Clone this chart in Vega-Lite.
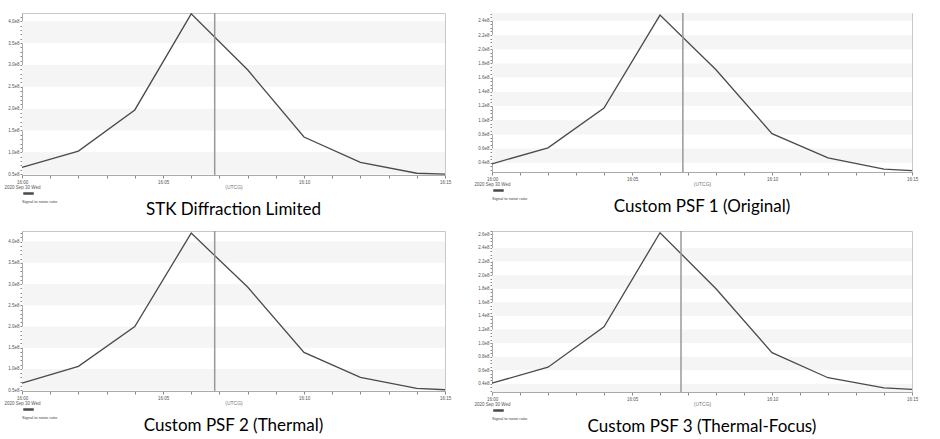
{
  "$schema": "https://vega.github.io/schema/vega-lite/v6.json",
  "padding": {"left": 3, "top": 10, "right": 2, "bottom": 0},
  "background": "white",
  "config": {
    "view": {"stroke": "#c8c8c8", "strokeWidth": 1},
    "axis": {"domainColor": "#aaa", "tickColor": "#888", "labelColor": "#555", "labelFont": "Liberation Sans", "labelFontSize": 4.5, "grid": false, "titleFont": "Liberation Sans"},
    "title": {"font": "Lato", "fontSize": 17, "fontWeight": "normal", "color": "#000", "orient": "bottom", "offset": -2}
  },
  "datasets": {
    "snr": [
      {"panel": 1, "time": "2020-09-30T16:00:00", "snr": 65500000},
      {"panel": 1, "time": "2020-09-30T16:02:00", "snr": 102700000},
      {"panel": 1, "time": "2020-09-30T16:04:00", "snr": 197000000},
      {"panel": 1, "time": "2020-09-30T16:06:00", "snr": 417000000},
      {"panel": 1, "time": "2020-09-30T16:08:00", "snr": 289000000},
      {"panel": 1, "time": "2020-09-30T16:10:00", "snr": 135000000},
      {"panel": 1, "time": "2020-09-30T16:12:00", "snr": 77000000},
      {"panel": 1, "time": "2020-09-30T16:14:00", "snr": 52000000},
      {"panel": 1, "time": "2020-09-30T16:15:00", "snr": 50000000},
      {"panel": 2, "time": "2020-09-30T16:00:00", "snr": 38600000},
      {"panel": 2, "time": "2020-09-30T16:02:00", "snr": 61000000},
      {"panel": 2, "time": "2020-09-30T16:04:00", "snr": 117000000},
      {"panel": 2, "time": "2020-09-30T16:06:00", "snr": 248000000},
      {"panel": 2, "time": "2020-09-30T16:08:00", "snr": 171000000},
      {"panel": 2, "time": "2020-09-30T16:10:00", "snr": 81000000},
      {"panel": 2, "time": "2020-09-30T16:12:00", "snr": 47000000},
      {"panel": 2, "time": "2020-09-30T16:14:00", "snr": 31000000},
      {"panel": 2, "time": "2020-09-30T16:15:00", "snr": 29000000},
      {"panel": 3, "time": "2020-09-30T16:00:00", "snr": 66500000},
      {"panel": 3, "time": "2020-09-30T16:02:00", "snr": 106000000},
      {"panel": 3, "time": "2020-09-30T16:04:00", "snr": 200000000},
      {"panel": 3, "time": "2020-09-30T16:06:00", "snr": 420000000},
      {"panel": 3, "time": "2020-09-30T16:08:00", "snr": 293000000},
      {"panel": 3, "time": "2020-09-30T16:10:00", "snr": 139000000},
      {"panel": 3, "time": "2020-09-30T16:12:00", "snr": 80000000},
      {"panel": 3, "time": "2020-09-30T16:14:00", "snr": 54000000},
      {"panel": 3, "time": "2020-09-30T16:15:00", "snr": 51000000},
      {"panel": 4, "time": "2020-09-30T16:00:00", "snr": 41000000},
      {"panel": 4, "time": "2020-09-30T16:02:00", "snr": 64500000},
      {"panel": 4, "time": "2020-09-30T16:04:00", "snr": 124000000},
      {"panel": 4, "time": "2020-09-30T16:06:00", "snr": 262500000},
      {"panel": 4, "time": "2020-09-30T16:08:00", "snr": 180000000},
      {"panel": 4, "time": "2020-09-30T16:10:00", "snr": 86000000},
      {"panel": 4, "time": "2020-09-30T16:12:00", "snr": 49000000},
      {"panel": 4, "time": "2020-09-30T16:14:00", "snr": 34000000},
      {"panel": 4, "time": "2020-09-30T16:15:00", "snr": 32000000}
    ],
    "bands": [
      {"panel": 1, "lo": 50000000, "hi": 100000000},
      {"panel": 1, "lo": 150000000, "hi": 200000000},
      {"panel": 1, "lo": 250000000, "hi": 300000000},
      {"panel": 1, "lo": 350000000, "hi": 400000000},
      {"panel": 3, "lo": 50000000, "hi": 100000000},
      {"panel": 3, "lo": 150000000, "hi": 200000000},
      {"panel": 3, "lo": 250000000, "hi": 300000000},
      {"panel": 3, "lo": 350000000, "hi": 400000000},
      {"panel": 2, "lo": 40000000, "hi": 60000000},
      {"panel": 2, "lo": 80000000, "hi": 100000000},
      {"panel": 2, "lo": 120000000, "hi": 140000000},
      {"panel": 2, "lo": 160000000, "hi": 180000000},
      {"panel": 2, "lo": 200000000, "hi": 220000000},
      {"panel": 2, "lo": 240000000, "hi": 251000000},
      {"panel": 4, "lo": 28000000, "hi": 40000000},
      {"panel": 4, "lo": 60000000, "hi": 80000000},
      {"panel": 4, "lo": 100000000, "hi": 120000000},
      {"panel": 4, "lo": 140000000, "hi": 160000000},
      {"panel": 4, "lo": 180000000, "hi": 200000000},
      {"panel": 4, "lo": 220000000, "hi": 240000000}
    ],
    "marker": [
      {"panel": 1, "time": "2020-09-30T16:06:50"},
      {"panel": 2, "time": "2020-09-30T16:06:49"},
      {"panel": 3, "time": "2020-09-30T16:06:50"},
      {"panel": 4, "time": "2020-09-30T16:06:45"}
    ]
  },
  "resolve": {"scale": {"color": "independent"}, "legend": {"color": "independent"}},
  "spacing": 8,
  "vconcat": [
    {
      "spacing": 21,
      "resolve": {"scale": {"color": "independent"}, "legend": {"color": "independent"}},
      "hconcat": [
        {
          "width": 423, "height": 162,
          "title": {"text": "STK Diffraction Limited"},
          "layer": [
            {"data": {"name": "bands"}, "transform": [{"filter": "datum.panel == 1"}],
             "mark": {"type": "rect", "color": "#f5f5f5"},
             "encoding": {"y": {"field": "lo", "type": "quantitative", "title": null}, "y2": {"field": "hi"}}},
            {"data": {"name": "snr"}, "transform": [{"filter": "datum.panel == 1"}],
             "mark": {"type": "line", "strokeWidth": 1.3},
             "encoding": {
               "x": {"field": "time", "type": "temporal", "scale": {"domain": [{"year": 2020, "month": 9, "date": 30, "hours": 16, "minutes": 0}, {"year": 2020, "month": 9, "date": 30, "hours": 16, "minutes": 15}]},
                     "axis": {"title": "(UTCG)", "tickCount": 15, "labelExpr": "minutes(datum.value) % 5 == 0 ? (minutes(datum.value) == 0 ? [timeFormat(datum.value, '%H:%M'), '2020 Sep 30 Wed'] : timeFormat(datum.value, '%H:%M')) : ''", "tickSize": 3, "labelOverlap": false, "labelFlush": false, "labelBound": false, "titleFontSize": 5, "titleColor": "#777", "titleFontWeight": "normal", "titlePadding": -5, "labelPadding": 1, "labelLineHeight": 5.5}},
               "y": {"field": "snr", "type": "quantitative", "scale": {"domain": [48000000, 419000000], "zero": false, "nice": false},
                     "axis": {"title": null, "tickCount": 37, "labelExpr": "abs(datum.value/5e7 - round(datum.value/5e7)) < 0.001 ? format(datum.value/1e8, '.1f') + 'e8' : ''", "tickSize": 2, "labelOverlap": false, "labelBound": false, "labelPadding": 1}},
               "color": {"datum": "Signal to noise ratio", "scale": {"range": ["#4a4a4a"]}, "legend": {"orient": "bottom", "offset": -2, "padding": 0, "title": "Signal to noise ratio", "titleOrient": "bottom", "titleFontSize": 4, "titleFont": "Liberation Sans", "titleFontWeight": "normal", "titleColor": "#444", "titlePadding": 1, "labelExpr": "''", "labelFontSize": 1, "symbolType": "stroke", "symbolStrokeWidth": 2.5, "symbolSize": 110}}
             }},
            {"data": {"name": "marker"}, "transform": [{"filter": "datum.panel == 1"}],
             "mark": {"type": "rule", "color": "#999", "strokeWidth": 1.5},
             "encoding": {"x": {"field": "time", "type": "temporal"}}}
          ]
        },
        {
          "width": 420, "height": 159,
          "title": {"text": "Custom PSF 1 (Original)"},
          "layer": [
            {"data": {"name": "bands"}, "transform": [{"filter": "datum.panel == 2"}],
             "mark": {"type": "rect", "color": "#f5f5f5"},
             "encoding": {"y": {"field": "lo", "type": "quantitative", "title": null}, "y2": {"field": "hi"}}},
            {"data": {"name": "snr"}, "transform": [{"filter": "datum.panel == 2"}],
             "mark": {"type": "line", "strokeWidth": 1.3},
             "encoding": {
               "x": {"field": "time", "type": "temporal", "scale": {"domain": [{"year": 2020, "month": 9, "date": 30, "hours": 16, "minutes": 0}, {"year": 2020, "month": 9, "date": 30, "hours": 16, "minutes": 15}]},
                     "axis": {"title": "(UTCG)", "tickCount": 15, "labelExpr": "minutes(datum.value) % 5 == 0 ? (minutes(datum.value) == 0 ? [timeFormat(datum.value, '%H:%M'), '2020 Sep 30 Wed'] : timeFormat(datum.value, '%H:%M')) : ''", "tickSize": 3, "labelOverlap": false, "labelFlush": false, "labelBound": false, "titleFontSize": 5, "titleColor": "#777", "titleFontWeight": "normal", "titlePadding": -5, "labelPadding": 1, "labelLineHeight": 5.5}},
               "y": {"field": "snr", "type": "quantitative", "scale": {"domain": [27000000, 251000000], "zero": false, "nice": false},
                     "axis": {"title": null, "tickCount": 45, "labelExpr": "abs(datum.value/2e7 - round(datum.value/2e7)) < 0.001 ? format(datum.value/1e8, '.1f') + 'e8' : ''", "tickSize": 2, "labelOverlap": false, "labelBound": false, "labelPadding": 1}},
               "color": {"datum": "Signal to noise ratio", "scale": {"range": ["#4a4a4a"]}, "legend": {"orient": "bottom", "offset": -2, "padding": 0, "title": "Signal to noise ratio", "titleOrient": "bottom", "titleFontSize": 4, "titleFont": "Liberation Sans", "titleFontWeight": "normal", "titleColor": "#444", "titlePadding": 1, "labelExpr": "''", "labelFontSize": 1, "symbolType": "stroke", "symbolStrokeWidth": 2.5, "symbolSize": 110}}
             }},
            {"data": {"name": "marker"}, "transform": [{"filter": "datum.panel == 2"}],
             "mark": {"type": "rule", "color": "#999", "strokeWidth": 1.5},
             "encoding": {"x": {"field": "time", "type": "temporal"}}}
          ]
        }
      ]
    },
    {
      "spacing": 21,
      "resolve": {"scale": {"color": "independent"}, "legend": {"color": "independent"}},
      "hconcat": [
        {
          "width": 423, "height": 160,
          "title": {"text": "Custom PSF 2 (Thermal)"},
          "layer": [
            {"data": {"name": "bands"}, "transform": [{"filter": "datum.panel == 3"}],
             "mark": {"type": "rect", "color": "#f5f5f5"},
             "encoding": {"y": {"field": "lo", "type": "quantitative", "title": null}, "y2": {"field": "hi"}}},
            {"data": {"name": "snr"}, "transform": [{"filter": "datum.panel == 3"}],
             "mark": {"type": "line", "strokeWidth": 1.3},
             "encoding": {
               "x": {"field": "time", "type": "temporal", "scale": {"domain": [{"year": 2020, "month": 9, "date": 30, "hours": 16, "minutes": 0}, {"year": 2020, "month": 9, "date": 30, "hours": 16, "minutes": 15}]},
                     "axis": {"title": "(UTCG)", "tickCount": 15, "labelExpr": "minutes(datum.value) % 5 == 0 ? (minutes(datum.value) == 0 ? [timeFormat(datum.value, '%H:%M'), '2020 Sep 30 Wed'] : timeFormat(datum.value, '%H:%M')) : ''", "tickSize": 3, "labelOverlap": false, "labelFlush": false, "labelBound": false, "titleFontSize": 5, "titleColor": "#777", "titleFontWeight": "normal", "titlePadding": -5, "labelPadding": 1, "labelLineHeight": 5.5}},
               "y": {"field": "snr", "type": "quantitative", "scale": {"domain": [48000000, 425000000], "zero": false, "nice": false},
                     "axis": {"title": null, "tickCount": 37, "labelExpr": "abs(datum.value/5e7 - round(datum.value/5e7)) < 0.001 ? format(datum.value/1e8, '.1f') + 'e8' : ''", "tickSize": 2, "labelOverlap": false, "labelBound": false, "labelPadding": 1}},
               "color": {"datum": "Signal to noise ratio", "scale": {"range": ["#4a4a4a"]}, "legend": {"orient": "bottom", "offset": -2, "padding": 0, "title": "Signal to noise ratio", "titleOrient": "bottom", "titleFontSize": 4, "titleFont": "Liberation Sans", "titleFontWeight": "normal", "titleColor": "#444", "titlePadding": 1, "labelExpr": "''", "labelFontSize": 1, "symbolType": "stroke", "symbolStrokeWidth": 2.5, "symbolSize": 110}}
             }},
            {"data": {"name": "marker"}, "transform": [{"filter": "datum.panel == 3"}],
             "mark": {"type": "rule", "color": "#999", "strokeWidth": 1.5},
             "encoding": {"x": {"field": "time", "type": "temporal"}}}
          ]
        },
        {
          "width": 420, "height": 161,
          "title": {"text": "Custom PSF 3 (Thermal-Focus)"},
          "layer": [
            {"data": {"name": "bands"}, "transform": [{"filter": "datum.panel == 4"}],
             "mark": {"type": "rect", "color": "#f5f5f5"},
             "encoding": {"y": {"field": "lo", "type": "quantitative", "title": null}, "y2": {"field": "hi"}}},
            {"data": {"name": "snr"}, "transform": [{"filter": "datum.panel == 4"}],
             "mark": {"type": "line", "strokeWidth": 1.3},
             "encoding": {
               "x": {"field": "time", "type": "temporal", "scale": {"domain": [{"year": 2020, "month": 9, "date": 30, "hours": 16, "minutes": 0}, {"year": 2020, "month": 9, "date": 30, "hours": 16, "minutes": 15}]},
                     "axis": {"title": "(UTCG)", "tickCount": 15, "labelExpr": "minutes(datum.value) % 5 == 0 ? (minutes(datum.value) == 0 ? [timeFormat(datum.value, '%H:%M'), '2020 Sep 30 Wed'] : timeFormat(datum.value, '%H:%M')) : ''", "tickSize": 3, "labelOverlap": false, "labelFlush": false, "labelBound": false, "titleFontSize": 5, "titleColor": "#777", "titleFontWeight": "normal", "titlePadding": -5, "labelPadding": 1, "labelLineHeight": 5.5}},
               "y": {"field": "snr", "type": "quantitative", "scale": {"domain": [28000000, 265000000], "zero": false, "nice": false},
                     "axis": {"title": null, "tickCount": 47, "labelExpr": "abs(datum.value/2e7 - round(datum.value/2e7)) < 0.001 ? format(datum.value/1e8, '.1f') + 'e8' : ''", "tickSize": 2, "labelOverlap": false, "labelBound": false, "labelPadding": 1}},
               "color": {"datum": "Signal to noise ratio", "scale": {"range": ["#4a4a4a"]}, "legend": {"orient": "bottom", "offset": -2, "padding": 0, "title": "Signal to noise ratio", "titleOrient": "bottom", "titleFontSize": 4, "titleFont": "Liberation Sans", "titleFontWeight": "normal", "titleColor": "#444", "titlePadding": 1, "labelExpr": "''", "labelFontSize": 1, "symbolType": "stroke", "symbolStrokeWidth": 2.5, "symbolSize": 110}}
             }},
            {"data": {"name": "marker"}, "transform": [{"filter": "datum.panel == 4"}],
             "mark": {"type": "rule", "color": "#999", "strokeWidth": 1.5},
             "encoding": {"x": {"field": "time", "type": "temporal"}}}
          ]
        }
      ]
    }
  ]
}
